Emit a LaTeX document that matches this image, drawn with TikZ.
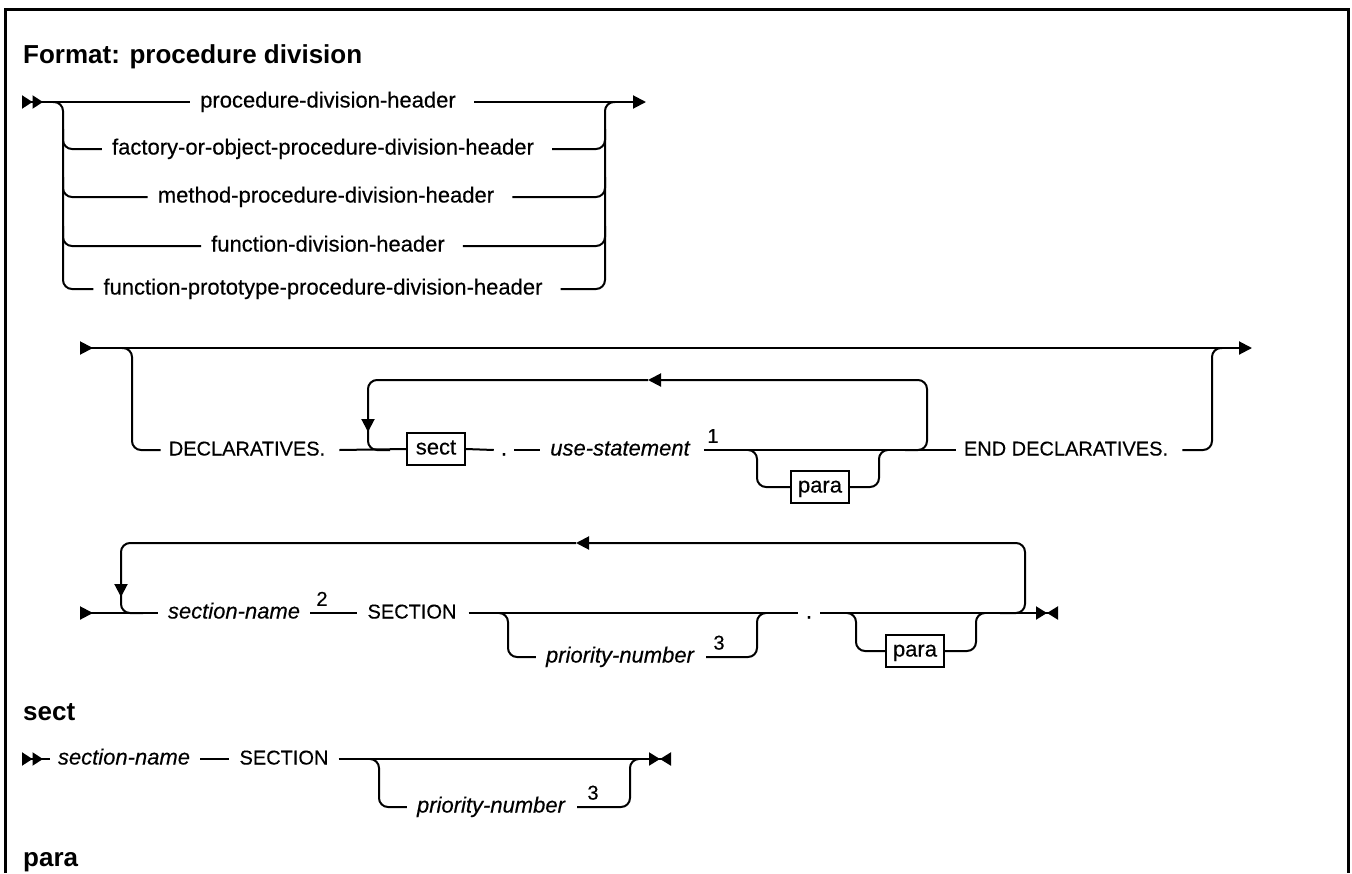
\documentclass[tikz,border=0pt]{standalone}
\usepackage{fontspec}
\setmainfont{Liberation Sans}
\newfontfamily\railfont[FakeBold=0.35]{Liberation Sans}
\usetikzlibrary{arrows.meta}
\definecolor{railfg}{HTML}{000000}

\tikzset{
  rail/.style={line width=2pt, railfg},
  railbend/.style={rail, rounded corners=9pt},
  railtip/.style={-{Triangle[length=13pt,width=13pt]}},
  term/.style={inner sep=0pt, text height=16pt, text depth=5pt, font=\railfont\fontsize{22}{26}\selectfont},
  kw/.style={term, font=\railfont\fontsize{20}{24}\selectfont},
  var/.style={term, font=\railfont\fontsize{22}{26}\selectfont\itshape},
  refbox/.style={draw, line width=1.8pt, inner sep=0pt, minimum width=58pt, minimum height=32pt,
    text height=15pt, text depth=4pt, font=\railfont\fontsize{22}{26}\selectfont},
  railnote/.style={inner sep=0pt, anchor=south, font=\railfont\fontsize{20}{22}\selectfont},
  heading/.style={inner sep=0pt, anchor=base west, font=\fontsize{26}{30}\selectfont\bfseries},
}

\begin{document}
\begin{tikzpicture}[x=1pt, y=-1pt, railfg]
		\useasboundingbox (0,0) rectangle (1352,873);

		% frame, open at the bottom
		\draw[line width=3pt] (5,873) -- (5,9) -- (1348,9) -- (1348,873);

		\node[heading] (title) at (23,63) {Format: procedure division};

		% division headers
		\node[term] (h1) at (328,102) {procedure-division-header};
		\node[term] (h2) at (323,149) {factory-or-object-procedure-division-header};
		\node[term] (h3) at (326,197) {method-procedure-division-header};
		\node[term] (h4) at (328,246) {function-division-header};
		\node[term] (h5) at (323,289) {function-prototype-procedure-division-header};
		\coordinate (s1in) at (22,102);
		\coordinate (s1out) at (646,102);

		\draw[rail, {Triangle[reversed,length=10.5pt,width=13pt] Triangle[reversed,length=10.5pt,width=13pt]}-]
		(s1in) -- ([xshift=-10pt]h1.west);
		\draw[rail, railtip] ([xshift=18pt]h1.east) -- (s1out);
		\draw[railbend] (53,102) -- (63,102) -- (63,289) -- ([xshift=-10pt]h5.west);
		\draw[railbend] ([xshift=18pt]h5.east) -- (605,289) -- (605,102) -- (615,102);
		\foreach \n/\y in {h2/149,h3/197,h4/246} {
				\draw[railbend] (63,\y-20) -- (63,\y) -- ([xshift=-10pt]\n.west);
				\draw[railbend] ([xshift=18pt]\n.east) -- (605,\y) -- (605,\y-20);
			}

		% declaratives
		\coordinate (s2in) at (80,348);
		\coordinate (s2out) at (1252,348);
		\node[kw] (decl) at (247,450) {DECLARATIVES.};
		\node[refbox] (sect1) at (436,449) {sect};
		\node[term] (dot1) at (504,450) {.};
		\node[var] (use) at (620,450) {use-statement};
		\node[railnote] (n1) at (713,443) {1};
		\node[refbox] (para1) at (820,487) {para};
		\node[kw] (enddecl) at (1066,450) {END DECLARATIVES.};

		\draw[rail, {Triangle[reversed,length=13pt,width=13pt]}-{Triangle[length=13pt,width=13pt]}]
		(s2in) -- (s2out);
		\draw[railbend] (122,348) -- (132,348) -- (132,450) -- ([xshift=-8pt]decl.west);
		\draw[rail] ([xshift=14pt]decl.east) -- (sect1.west);
		\draw[rail] (sect1.east) -- ([xshift=-7pt]dot1.west);
		\draw[rail] ([xshift=7pt]dot1.east) -- ([xshift=-10pt]use.west);
		\draw[rail] ([xshift=14pt]use.east) -- ([xshift=-8pt]enddecl.west);
		\draw[railbend] (748,450) -- (757,450) -- (757,487) -- (para1.west);
		\draw[railbend] (para1.east) -- (879,487) -- (879,450) -- (888,450);
		\draw[railbend] ([xshift=14pt]enddecl.east) -- (1212,450) -- (1212,348) -- (1222,348);
		% repeat loop
		\draw[railbend, railtip] (905,450) -- (927,450) -- (927,380) -- (648,380);
		\draw[railbend, railtip] (648,380) -- (368,380) -- (368,432);
		\draw[railbend] (368,428) -- (368,450) -- (390,450);

		% sections
		\coordinate (s3in) at (80,613);
		\coordinate (s3out) at (1058,613);
		\node[var] (sn1) at (234,613) {section-name};
		\node[railnote] (n2) at (322,606) {2};
		\node[kw] (sec1) at (412,613) {SECTION};
		\node[var] (pn1) at (620,657) {priority-number};
		\node[railnote] (n3) at (719,650) {3};
		\node[term] (dot2) at (809,613) {.};
		\node[refbox] (para2) at (915,651) {para};

		\draw[rail, {Triangle[reversed,length=13pt,width=13pt]}-] (s3in) -- ([xshift=-10pt]sn1.west);
		\draw[rail] ([xshift=10pt]sn1.east) -- ([xshift=-10pt]sec1.west);
		\draw[rail] ([xshift=12pt]sec1.east) -- ([xshift=-8pt]dot2.west);
		\draw[rail, -{Triangle[length=11pt,width=13pt] Triangle[reversed,length=11pt,width=13pt]}]
		([xshift=8pt]dot2.east) -- (s3out);
		\draw[railbend] (500,613) -- (508,613) -- (508,657) -- ([xshift=-10pt]pn1.west);
		\draw[railbend] ([xshift=12pt]pn1.east) -- (757,657) -- (757,613) -- (766,613);
		\draw[railbend] (848,613) -- (856,613) -- (856,651) -- (para2.west);
		\draw[railbend] (para2.east) -- (976,651) -- (976,613) -- (984,613);
		% repeat loop
		\draw[railbend, railtip] (1000,613) -- (1025,613) -- (1025,543) -- (576,543);
		\draw[railbend, railtip] (576,543) -- (121,543) -- (121,597);
		\draw[railbend] (121,595) -- (121,613) -- (143,613);

		% sect
		\node[heading] (hsect) at (23,720) {sect};
		\coordinate (s4in) at (22,759);
		\coordinate (s4out) at (671,759);
		\node[var] (sn2) at (124,759) {section-name};
		\node[kw] (sec2) at (284,759) {SECTION};
		\node[var] (pn2) at (491,807) {priority-number};
		\node[railnote] (n4) at (593,800) {3};

		\draw[rail, {Triangle[reversed,length=10.5pt,width=13pt] Triangle[reversed,length=10.5pt,width=13pt]}-]
		(s4in) -- ([xshift=-8pt]sn2.west);
		\draw[rail] ([xshift=10pt]sn2.east) -- ([xshift=-10pt]sec2.west);
		\draw[rail, -{Triangle[length=11pt,width=13pt] Triangle[reversed,length=11pt,width=13pt]}]
		([xshift=10pt]sec2.east) -- (s4out);
		\draw[railbend] (371,759) -- (379,759) -- (379,807) -- ([xshift=-10pt]pn2.west);
		\draw[railbend] ([xshift=12pt]pn2.east) -- (630,807) -- (630,759) -- (638,759);

		% para
		\node[heading] (hpara) at (23,866) {para};
	\end{tikzpicture}
\end{document}
